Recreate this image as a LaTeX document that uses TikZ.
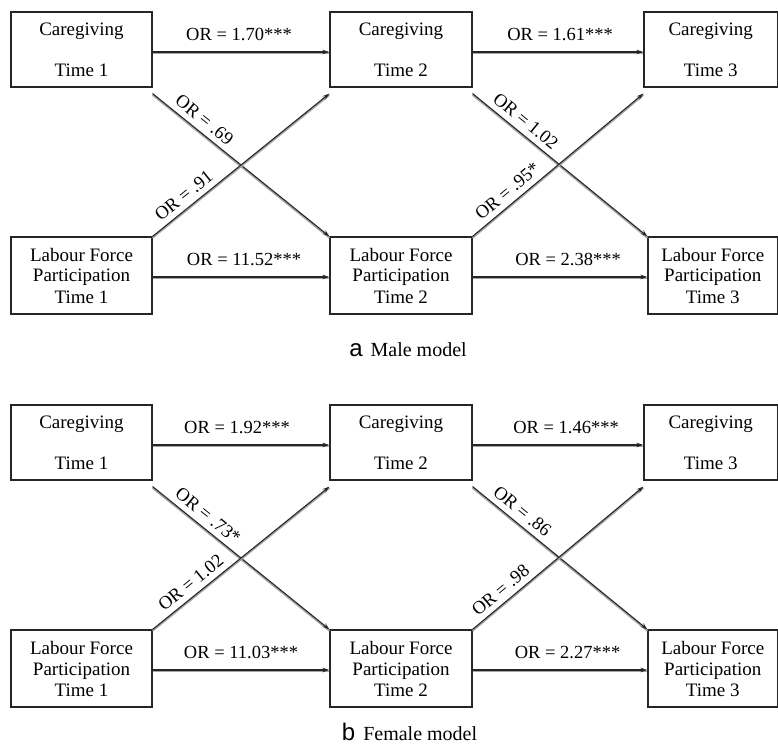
\documentclass[tikz,border=0pt]{standalone}
\usepackage{fontspec}
\setmainfont{Liberation Serif}
\newfontfamily\capsans{Liberation Sans}
\usetikzlibrary{arrows.meta}
\begin{document}
\begin{tikzpicture}[x=1pt,y=-1pt,
  box/.style={draw=black!85, line width=1.1pt, inner sep=0pt, align=center,
    font=\fontsize{19}{21}\selectfont},
  conn/.style={draw=black!85, line width=1.1pt, -{Stealth[length=7pt,width=4.5pt]},
    preaction={draw=black!35, line width=1.8pt, -, transform canvas={yshift=-1.4pt}}},
  lab/.style={font=\fontsize{18.5}{21}\selectfont, inner sep=1pt},
  hlab/.style={lab, midway, yshift=17.5pt},
  dlab/.style={lab, sloped, above=4.5pt},
  capt/.style={anchor=base, inner sep=0pt},
]
\useasboundingbox (0,0) rectangle (778,751);

% ---------------- Panel a ----------------
\node[box, minimum width=141pt, minimum height=75pt] (ac1) at (81.5,49.5) {Caregiving\\[20pt]Time 1};
\node[box, minimum width=142pt, minimum height=75pt] (ac2) at (401,49.5) {Caregiving\\[20pt]Time 2};
\node[box, minimum width=133.5pt, minimum height=75pt] (ac3) at (710.75,49.5) {Caregiving\\[20pt]Time 3};
\node[box, minimum width=141pt, minimum height=77pt] (al1) at (81.5,275.5) {Labour Force\\Participation\\Time 1};
\node[box, minimum width=142pt, minimum height=77pt] (al2) at (401,275.5) {Labour Force\\Participation\\Time 2};
\node[box, minimum width=129.5pt, minimum height=77pt] (al3) at (712.75,275.5) {Labour Force\\Participation\\Time 3};

\draw[conn] ([yshift=-2.5pt]ac1.east) -- ([yshift=-2.5pt]ac2.west) node[hlab, xshift=-2pt] {OR = 1.70***};
\draw[conn] ([yshift=-2.5pt]ac2.east) -- ([yshift=-2.5pt]ac3.west) node[hlab, xshift=2pt] {OR = 1.61***};
\draw[conn] ([yshift=-1.5pt]al1.east) -- ([yshift=-1.5pt]al2.west) node[hlab, xshift=3pt] {OR = 11.52***};
\draw[conn] ([yshift=-1.5pt]al2.east) -- ([yshift=-1.5pt]al3.west) node[hlab, xshift=8pt] {OR = 2.38***};

\draw[conn] ([yshift=-6pt]ac1.south east) -- (al2.north west) node[dlab, pos=0.25] {OR = .69};
\draw[conn] (al1.north east) -- ([yshift=-6pt]ac2.south west) node[dlab, pos=0.22] {OR = .91};
\draw[conn] ([yshift=-6pt]ac2.south east) -- (al3.north west) node[dlab, pos=0.26] {OR = 1.02};
\draw[conn] (al2.north east) -- ([yshift=-6pt]ac3.south west) node[dlab, pos=0.25] {OR = .95*};

\node[capt] (capa) at (408,356) {{\capsans\fontsize{24}{24}\selectfont a}\hspace{8pt}{\fontsize{20}{24}\selectfont Male model}};

% ---------------- Panel b ----------------
\node[box, minimum width=141pt, minimum height=75pt] (bc1) at (81.5,442.5) {Caregiving\\[20pt]Time 1};
\node[box, minimum width=142pt, minimum height=75pt] (bc2) at (401,442.5) {Caregiving\\[20pt]Time 2};
\node[box, minimum width=133.5pt, minimum height=75pt] (bc3) at (710.75,442.5) {Caregiving\\[20pt]Time 3};
\node[box, minimum width=141pt, minimum height=77pt] (bl1) at (81.5,668.5) {Labour Force\\Participation\\Time 1};
\node[box, minimum width=142pt, minimum height=77pt] (bl2) at (401,668.5) {Labour Force\\Participation\\Time 2};
\node[box, minimum width=129.5pt, minimum height=77pt] (bl3) at (712.75,668.5) {Labour Force\\Participation\\Time 3};

\draw[conn] ([yshift=-2.5pt]bc1.east) -- ([yshift=-2.5pt]bc2.west) node[hlab, xshift=-4pt] {OR = 1.92***};
\draw[conn] ([yshift=-2.5pt]bc2.east) -- ([yshift=-2.5pt]bc3.west) node[hlab, xshift=8pt] {OR = 1.46***};
\draw[conn] ([yshift=-1.5pt]bl1.east) -- ([yshift=-1.5pt]bl2.west) node[hlab] {OR = 11.03***};
\draw[conn] ([yshift=-1.5pt]bl2.east) -- ([yshift=-1.5pt]bl3.west) node[hlab, xshift=7.5pt] {OR = 2.27***};

\draw[conn] ([yshift=-6pt]bc1.south east) -- (bl2.north west) node[dlab, pos=0.27] {OR = .73*};
\draw[conn] (bl1.north east) -- ([yshift=-6pt]bc2.south west) node[dlab, pos=0.26] {OR = 1.02};
\draw[conn] ([yshift=-6pt]bc2.south east) -- (bl3.north west) node[dlab, pos=0.24] {OR = .86};
\draw[conn] (bl2.north east) -- ([yshift=-6pt]bc3.south west) node[dlab, pos=0.21] {OR = .98};

\node[capt] (capb) at (409.5,740) {{\capsans\fontsize{24}{24}\selectfont b}\hspace{8pt}{\fontsize{20}{24}\selectfont Female model}};
\end{tikzpicture}
\end{document}
